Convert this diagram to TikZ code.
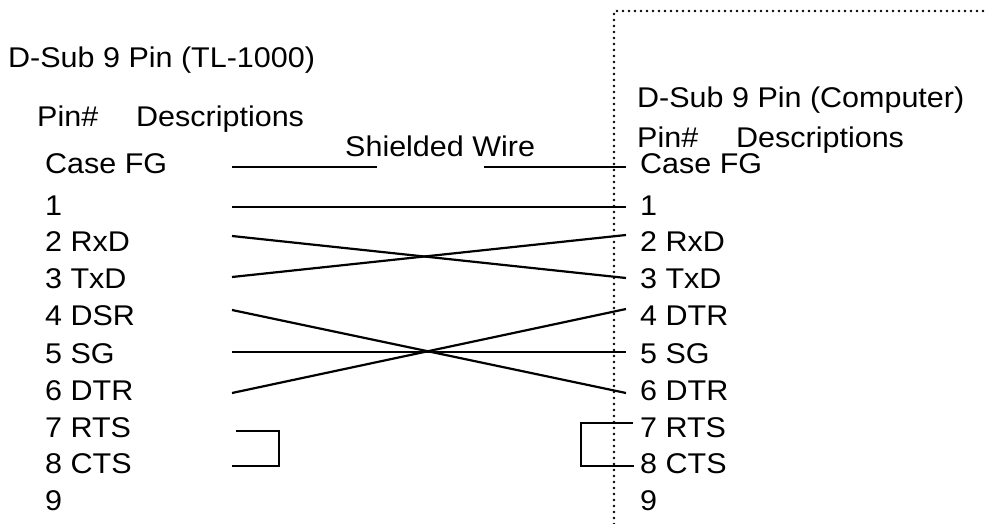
\documentclass[tikz,border=0pt]{standalone}
\usepackage{fontspec}
\setmainfont{Liberation Sans}[FakeStretch=1.07]
\tikzset{
  pin/.style={anchor=base west, inner sep=0pt},
  wire/.style={line width=2.2pt},
  dotbox/.style={line width=2.8pt, line cap=round, dash pattern=on 0pt off 6pt},
}
\begin{document}
\begin{tikzpicture}[x=1pt,y=-1pt,font=\fontsize{28.5}{34}\selectfont]
  \useasboundingbox (0,0) rectangle (987,524);
  % Dotted frame of the computer side
  \draw[dotbox] (614,524) -- (614,11) -- (987,11);

  % Headers
  \node[pin] (hl) at (8,68) {D-Sub 9 Pin (TL-1000)};
  \node[pin] (pl) at (37,127) {Pin\#\hspace{38pt}Descriptions};
  \node[pin] (hr) at (637,107) {D-Sub 9 Pin (Computer)};
  \node[pin] (pr) at (637,147) {Pin\#\hspace{38pt}Descriptions};
  \node[pin] (sw) at (345,157) {Shielded Wire};

  % Pin rows: name / text / baseline / wire height
  \foreach \n/\t/\y/\w in {0/Case FG/173/167, 1/1/215/207, 2/2 RxD/251/236,
      3/3 TxD/288/277, 4/4 DSR/325/310, 5/5 SG/363/352, 6/6 DTR/400/393,
      7/7 RTS/437/431, 8/8 CTS/473/466, 9/9/510/500}{
    \node[pin] (L\n) at (45,\y) {\t};
    \coordinate (lw\n) at (232,\w);
  }
  \foreach \n/\t/\y/\w in {0/Case FG/173/167, 1/1/215/207, 2/2 RxD/251/235,
      3/3 TxD/288/278, 4/4 DTR/325/309, 5/5 SG/363/352, 6/6 DTR/400/393,
      7/7 RTS/437/423, 8/8 CTS/473/466, 9/9/510/500}{
    \node[pin] (R\n) at (640,\y) {\t};
    \coordinate (rw\n) at (626,\w);
  }
  \coordinate (sg1) at (377,167);
  \coordinate (sg2) at (484,167);

  % Wires
  \draw[wire] (lw0) -- (sg1);
  \draw[wire] (sg2) -- (rw0);
  \draw[wire] (lw1) -- (rw1);
  \draw[wire] (lw2) -- (rw3);
  \draw[wire] (lw3) -- (rw2);
  \draw[wire] (lw4) -- (rw6);
  \draw[wire] (lw5) -- (rw5);
  \draw[wire] (lw6) -- (rw4);

  % Loop-backs
  \draw[wire] ([xshift=4pt]lw7) -| (279,466) -- (lw8);
  \draw[wire] ([xshift=7pt]rw7) -| (581,466) -- ([xshift=8pt]rw8);
\end{tikzpicture}
\end{document}
